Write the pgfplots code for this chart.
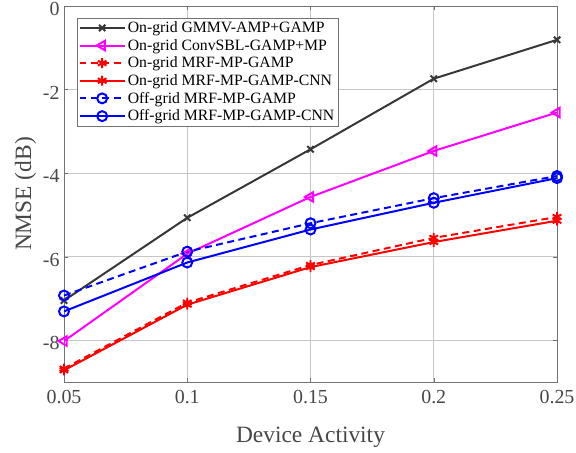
\documentclass[border=0pt]{standalone}
\usepackage{pgfplots}
\pgfplotsset{compat=1.18}
\usepackage{fontspec}
\setmainfont{Liberation Serif}
\definecolor{dk}{RGB}{55,55,55}
\definecolor{mg}{RGB}{255,0,255}
\definecolor{rd}{RGB}{255,0,0}
\definecolor{bl}{RGB}{0,0,255}
\begin{document}
\begin{tikzpicture}
\begin{axis}[
  scale only axis, width=493bp, height=376bp,
  xmin=0.05, xmax=0.25, ymin=-9, ymax=0,
  xtick={0.05,0.1,0.15,0.2,0.25},
  xticklabels={0.05,0.1,0.15,0.2,0.25},
  ytick={-8,-6,-4,-2,0},
  /pgf/number format/assume math mode=true,
  tick label style={font=\fontsize{20}{22}\selectfont, text=black!72},
  xticklabel style={yshift=-5bp},
  yticklabel style={yshift=-3bp, xshift=-1bp},
  label style={font=\fontsize{23.5}{26}\selectfont, text=black!72},
  xlabel={Device Activity}, ylabel={NMSE (dB)},
  xlabel style={yshift=-16bp},
  grid=major, grid style={gray!45, line width=0.8pt},
  axis line style={black!55, line width=0.8pt},
  tick style={black!55},
  tick align=inside,
  legend style={font=\fontsize{15.8}{17}\selectfont, draw=black!55, inner sep=1.5pt, row sep=1.2pt, at={(0.026,0.968)}, anchor=north west},
  legend cell align=left,
  legend image code/.code={\draw[mark repeat=2,mark phase=2] plot coordinates {(0cm,0cm)(0.8cm,0cm)(1.6cm,0cm)};},
  every axis plot/.append style={line width=2pt},
]
\addplot[dk, mark=x, mark size=4.5pt] coordinates {(0.05,-7.05) (0.1,-5.07) (0.15,-3.43) (0.2,-1.74) (0.25,-0.81)};
\addlegendentry{On-grid GMMV-AMP+GAMP}
\addplot[mg, mark=triangle, mark options={rotate=90, solid}, mark size=5.5pt] coordinates {(0.05,-8.02) (0.1,-5.93) (0.15,-4.57) (0.2,-3.47) (0.25,-2.55)};
\addlegendentry{On-grid ConvSBL-GAMP+MP}
\addplot[rd, dash pattern=on 7pt off 4.5pt, mark=asterisk, mark options={solid}, mark size=5pt] coordinates {(0.05,-8.68) (0.1,-7.1) (0.15,-6.2) (0.2,-5.55) (0.25,-5.05)};
\addlegendentry{On-grid MRF-MP-GAMP}
\addplot[rd, mark=asterisk, mark size=5pt] coordinates {(0.05,-8.72) (0.1,-7.15) (0.15,-6.25) (0.2,-5.65) (0.25,-5.14)};
\addlegendentry{On-grid MRF-MP-GAMP-CNN}
\addplot[bl, dash pattern=on 7pt off 4.5pt, mark=o, mark options={solid}, mark size=5pt] coordinates {(0.05,-6.93) (0.1,-5.88) (0.15,-5.2) (0.2,-4.6) (0.25,-4.07)};
\addlegendentry{Off-grid MRF-MP-GAMP}
\addplot[bl, mark=o, mark size=5pt] coordinates {(0.05,-7.31) (0.1,-6.14) (0.15,-5.35) (0.2,-4.71) (0.25,-4.12)};
\addlegendentry{Off-grid MRF-MP-GAMP-CNN}
\end{axis}
\pgfresetboundingbox
\path ([shift={(-64bp,-71bp)}]current axis.south west) rectangle ([shift={(19bp,6bp)}]current axis.north east);
\end{tikzpicture}
\end{document}
